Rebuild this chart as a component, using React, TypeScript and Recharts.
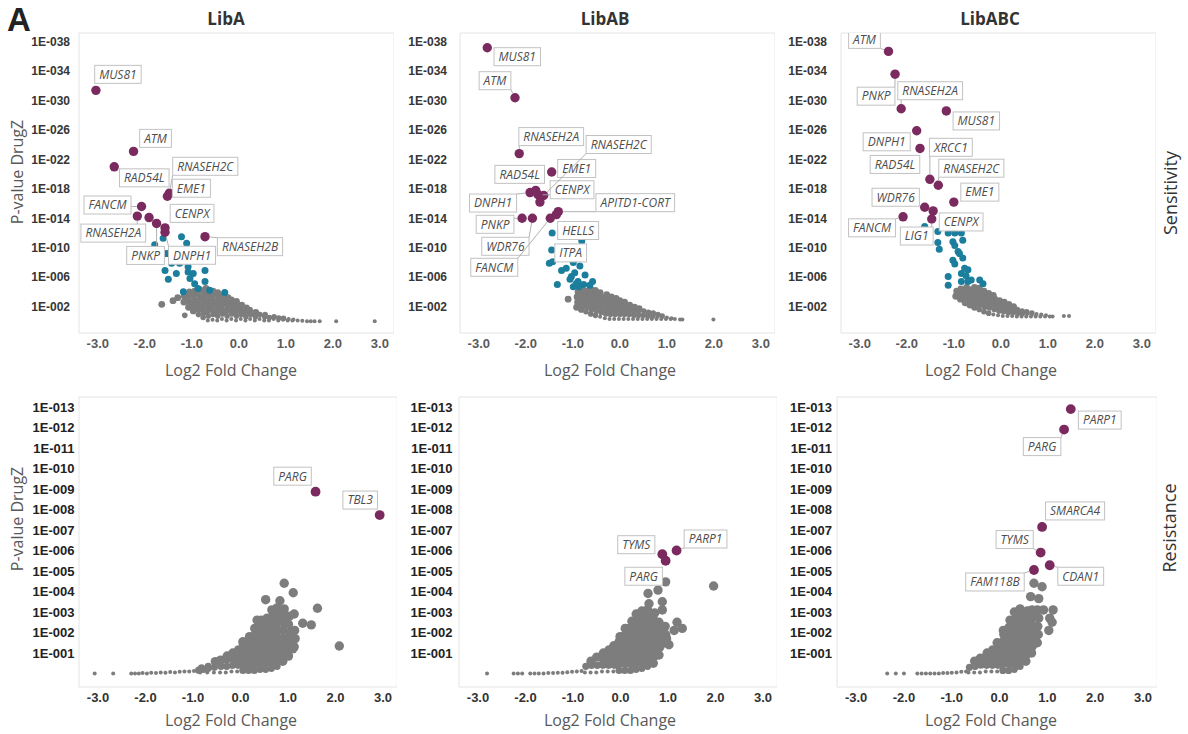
import React from 'react';
import { ScatterChart, Scatter, XAxis, YAxis, ReferenceArea } from 'recharts';

type Pt = [number, number];
type Named = [string, number, number];

// ---------- ticks & texts ----------
const xTicks = [-3, -2, -1, 0, 1, 2, 3];
const sensitivityTicks = [2, 6, 10, 14, 18, 22, 26, 30, 34, 38];
const resistanceTicks = [1, 2, 3, 4, 5, 6, 7, 8, 9, 10, 11, 12, 13];
const libraryTitles = ['LibA', 'LibAB', 'LibABC'];
const rowTitles = ['Sensitivity', 'Resistance'];
const xTitle = 'Log2 Fold Change';
const yTitle = 'P-value DrugZ';
const panelLetter = 'A';

// ---------- LibA sensitivity ----------
const libA_sens_hits: Named[] = [
  ['MUS81', -3.04, 31.4], ['ATM', -2.24, 23.1], ['RAD54L', -2.65, 21.0], ['RNASEH2C', -1.48, 17.4],
  ['EME1', -1.52, 17.0], ['FANCM', -2.07, 15.6], ['RNASEH2A', -2.16, 14.3], ['', -1.91, 14.1],
  ['PNKP', -1.75, 13.3], ['CENPX', -1.57, 12.7], ['DNPH1', -1.57, 12.1], ['RNASEH2B', -0.72, 11.5],
];
const libA_sens_sig: Pt[] = [
  [-1.61, 11.3], [-1.22, 11.5], [-1.79, 10.4], [-1.11, 10.6], [-1.54, 9.2], [-1.40, 8.3], [-1.43, 7.9],
  [-1.26, 7.9], [-1.08, 7.4], [-1.57, 6.9], [-1.33, 6.5], [-1.08, 6.7], [-0.97, 6.5], [-0.72, 6.9],
  [-1.04, 5.8], [-1.50, 5.7], [-0.94, 5.1], [-0.72, 5.4], [-0.87, 4.45], [-1.18, 4.0], [-0.62, 4.2], [-0.30, 3.9],
];
const libA_sens_sigNamed: Named[] = [];
const libA_sens_gray: Pt[] = [
  [-1.64, 2.3], [-1.40, 2.8], [-1.30, 3.2], [-1.15, 0.8], [-0.05, 2.7],
  [-1.17, 2.6], [-1.16, 3.4],
  [-1.07, 1.9], [-1.06, 2.6], [-1.08, 3.3], [-1.05, 4.0],
  [-0.97, 1.4], [-0.96, 2.1], [-0.95, 2.8], [-0.97, 3.5], [-0.94, 4.1],
  [-0.86, 0.9], [-0.85, 1.6], [-0.87, 2.3], [-0.84, 3.0], [-0.86, 3.7], [-0.83, 4.3],
  [-0.76, 0.5], [-0.75, 1.1], [-0.77, 1.8], [-0.74, 2.5], [-0.76, 3.2], [-0.73, 3.9], [-0.70, 4.45],
  [-0.66, 0.1], [-0.65, 0.7], [-0.67, 1.4], [-0.64, 2.1], [-0.66, 2.8], [-0.63, 3.5], [-0.65, 4.2],
  [-0.56, 0.2], [-0.55, 0.9], [-0.57, 1.6], [-0.54, 2.3], [-0.56, 3.0], [-0.53, 3.7], [-0.55, 4.1],
  [-0.46, 0.1], [-0.45, 0.7], [-0.47, 1.3], [-0.44, 2.0], [-0.46, 2.7], [-0.43, 3.4], [-0.45, 3.9],
  [-0.36, 0.3], [-0.35, 1.0], [-0.37, 1.7], [-0.34, 2.4], [-0.36, 3.0], [-0.33, 3.5],
  [-0.26, 0.1], [-0.25, 0.7], [-0.27, 1.4], [-0.24, 2.1], [-0.26, 2.7], [-0.23, 3.2],
  [-0.16, 0.3], [-0.15, 1.0], [-0.17, 1.6], [-0.14, 2.3], [-0.16, 2.9],
  [-0.06, 0.1], [-0.05, 0.7], [-0.07, 1.3], [-0.04, 1.9], [-0.06, 2.5],
  [0.04, 0.3], [0.05, 0.9], [0.03, 1.5], [0.06, 2.2],
  [0.14, 0.1], [0.15, 0.6], [0.13, 1.2], [0.16, 1.8],
  [0.24, 0.3], [0.25, 0.9], [0.23, 1.5],
  [0.34, 0.1], [0.35, 0.6], [0.36, 1.2],
  [0.44, 0.3], [0.45, 0.9], [0.54, 0.1], [0.55, 0.6], [0.56, 0.9],
  [0.64, 0.1], [0.65, 0.5], [0.74, 0.3], [0.75, 0.6], [0.84, 0.1], [0.85, 0.45],
  [0.94, 0.2], [0.95, 0.4], [1.04, 0.1], [1.06, 0.3], [1.14, 0.1], [1.16, 0.25],
  [1.25, 0.1], [1.35, 0.05], [1.45, 0], [1.53, 0], [1.61, 0], [1.72, 0], [2.07, 0], [2.89, 0],
];

// ---------- LibAB sensitivity ----------
const libAB_sens_hits: Named[] = [
  ['MUS81', -2.82, 37.2], ['ATM', -2.23, 30.4], ['RNASEH2A', -2.14, 22.8], ['EME1', -1.45, 20.3],
  ['DNPH1', -1.91, 17.5], ['RAD54L', -1.79, 17.8], ['CENPX', -1.74, 17.2], ['RNASEH2C', -1.62, 17.1],
  ['', -1.70, 16.2], ['PNKP', -2.08, 14.0], ['WDR76', -1.86, 14.0], ['FANCM', -1.48, 14.0],
  ['APITD1-CORT', -1.31, 14.9], ['', -1.35, 14.5],
];
const libAB_sens_sigNamed: Named[] = [['HELLS', -1.44, 12.0], ['ITPA', -1.45, 9.7]];
const libAB_sens_sig: Pt[] = [
  [-0.81, 10.9], [-1.50, 7.9], [-1.43, 8.1], [-0.99, 8.0], [-0.85, 7.5], [-1.24, 6.9], [-1.14, 7.2],
  [-0.96, 6.6], [-0.74, 6.3], [-1.06, 5.7], [-0.89, 5.4], [-0.58, 5.4], [-1.33, 5.0], [-0.99, 4.7],
  [-0.87, 4.7], [-0.77, 5.0], [-1.03, 6.1], [-0.93, 5.1], [-0.64, 4.9],
];
const libAB_sens_gray: Pt[] = [
  [-1.10, 3.0],
  [-0.92, 1.9], [-0.90, 2.6], [-0.91, 3.3], [-0.89, 4.0],
  [-0.82, 1.6], [-0.80, 2.3], [-0.81, 3.0], [-0.79, 3.7], [-0.80, 4.3],
  [-0.72, 1.3], [-0.70, 2.0], [-0.71, 2.7], [-0.69, 3.4], [-0.70, 4.1],
  [-0.62, 1.0], [-0.60, 1.7], [-0.61, 2.4], [-0.59, 3.1], [-0.60, 3.8], [-0.62, 4.4],
  [-0.52, 0.8], [-0.50, 1.4], [-0.51, 2.1], [-0.49, 2.8], [-0.50, 3.5], [-0.52, 4.2],
  [-0.42, 0.6], [-0.40, 1.2], [-0.41, 1.9], [-0.39, 2.6], [-0.40, 3.3], [-0.42, 3.9],
  [-0.32, 0.4], [-0.30, 1.0], [-0.31, 1.7], [-0.29, 2.4], [-0.30, 3.0], [-0.28, 3.6],
  [-0.22, 0.3], [-0.20, 0.9], [-0.21, 1.5], [-0.19, 2.1], [-0.20, 2.8], [-0.18, 3.3],
  [-0.12, 0.3], [-0.10, 0.9], [-0.11, 1.5], [-0.09, 2.1], [-0.10, 2.7], [-0.08, 3.1],
  [-0.02, 0.3], [0.00, 0.9], [-0.01, 1.5], [0.01, 2.1], [0.00, 2.8],
  [0.08, 0.3], [0.10, 0.9], [0.09, 1.5], [0.11, 2.1], [0.10, 2.6],
  [0.18, 0.3], [0.20, 0.9], [0.19, 1.5], [0.21, 2.2],
  [0.28, 0.3], [0.30, 0.8], [0.29, 1.4], [0.31, 1.9],
  [0.38, 0.3], [0.40, 0.8], [0.39, 1.3], [0.41, 1.7],
  [0.48, 0.3], [0.50, 0.8], [0.51, 1.4], [0.58, 0.3], [0.60, 0.7], [0.61, 1.2],
  [0.68, 0.3], [0.70, 0.7], [0.71, 1.1], [0.78, 0.3], [0.80, 0.6], [0.81, 0.9],
  [0.88, 0.3], [0.90, 0.7], [0.98, 0.3], [1.00, 0.5], [1.08, 0.3], [1.10, 0.4],
  [1.17, 0.3], [1.28, 0.25], [1.33, 0.25], [1.99, 0.25],
];

// ---------- LibABC sensitivity ----------
const libABC_sens_hits: Named[] = [
  ['ATM', -2.39, 36.7], ['PNKP', -2.25, 33.6], ['RNASEH2A', -2.12, 28.9], ['MUS81', -1.16, 28.6],
  ['DNPH1', -1.79, 25.9], ['RAD54L', -1.72, 23.5], ['XRCC1', -1.51, 19.3], ['RNASEH2C', -1.33, 18.5],
  ['EME1', -1.00, 16.2], ['WDR76', -1.62, 15.5], ['CENPX', -1.44, 15.0], ['FANCM', -2.08, 14.2],
  ['LIG1', -1.47, 13.9],
];
const libABC_sens_sigNamed: Named[] = [];
const libABC_sens_sig: Pt[] = [
  [-1.34, 12.2], [-1.62, 12.9], [-1.12, 12.0], [-0.98, 12.0], [-0.84, 12.0], [-1.02, 12.6],
  [-1.34, 10.7], [-1.31, 9.8], [-1.02, 10.8], [-0.81, 11.0], [-0.98, 10.3], [-0.91, 9.5],
  [-0.88, 9.2], [-0.81, 8.6], [-1.02, 8.3], [-0.98, 7.8], [-0.77, 7.2], [-0.70, 7.0],
  [-0.84, 6.5], [-1.12, 6.1], [-1.12, 4.9], [-0.74, 6.2], [-0.63, 5.6], [-0.45, 5.6],
  [-0.38, 5.1], [-0.70, 5.4], [-0.84, 5.4],
];
const libABC_sens_gray: Pt[] = [
  [-0.96, 3.4], [-0.94, 4.1],
  [-0.86, 3.0], [-0.84, 3.7], [-0.85, 4.4],
  [-0.76, 2.5], [-0.74, 3.2], [-0.75, 3.9], [-0.73, 4.6],
  [-0.66, 2.2], [-0.64, 2.9], [-0.65, 3.6], [-0.63, 4.3],
  [-0.56, 1.9], [-0.54, 2.6], [-0.55, 3.3], [-0.53, 4.0], [-0.56, 4.6],
  [-0.46, 1.6], [-0.44, 2.3], [-0.45, 3.0], [-0.43, 3.7], [-0.46, 4.5],
  [-0.36, 1.3], [-0.34, 2.0], [-0.35, 2.7], [-0.33, 3.4], [-0.36, 4.1],
  [-0.26, 1.1], [-0.24, 1.8], [-0.25, 2.5], [-0.23, 3.2], [-0.26, 3.8],
  [-0.16, 0.9], [-0.14, 1.6], [-0.15, 2.3], [-0.13, 3.0], [-0.16, 3.5],
  [-0.06, 0.8], [-0.04, 1.4], [-0.05, 2.1], [-0.03, 2.8],
  [0.04, 0.7], [0.06, 1.3], [0.05, 1.9], [0.07, 2.6],
  [0.14, 0.7], [0.16, 1.2], [0.15, 1.8], [0.17, 2.3],
  [0.24, 0.7], [0.26, 1.2], [0.25, 1.7], [0.27, 2.0],
  [0.34, 0.65], [0.36, 1.1], [0.35, 1.6], [0.44, 0.65], [0.46, 1.1], [0.45, 1.4],
  [0.54, 0.65], [0.56, 1.0], [0.55, 1.3], [0.64, 0.65], [0.66, 1.1], [0.74, 0.65], [0.76, 1.0],
  [0.84, 0.65], [0.86, 0.9], [0.94, 0.65], [0.96, 0.8], [1.04, 0.65], [1.10, 0.65],
  [1.34, 0.7], [1.45, 0.7],
];

// ---------- LibA resistance ----------
const libA_res_hits: Named[] = [['PARG', 1.58, 8.87], ['TBL3', 2.93, 7.73]];
const libA_res_gray: Pt[] = [
  [-3.07, 0], [-2.68, 0], [-2.3, 0], [-2.22, 0], [-2.14, 0], [-2.06, 0.02], [-1.97, 0], [-1.88, 0.04],
  [-1.78, 0.02], [-1.68, 0.05], [-1.58, 0.04], [-1.48, 0.07], [-1.38, 0.05], [-1.28, 0.08], [-1.18, 0.1],
  [-1.08, 0.1], [-0.98, 0.12], [-0.88, 0.16], [-0.78, 0.2], [-0.68, 0.25],
  [-0.85, 0.05], [-0.82, 0.28], [-0.70, 0.05], [-0.68, 0.35],
  [-0.56, 0.05], [-0.55, 0.3], [-0.53, 0.58],
  [-0.43, 0.05], [-0.41, 0.35], [-0.42, 0.65],
  [-0.31, 0.05], [-0.29, 0.35], [-0.30, 0.7], [-0.28, 0.85],
  [-0.19, 0.1], [-0.17, 0.4], [-0.18, 0.75], [-0.16, 1.0],
  [-0.07, 0.1], [-0.05, 0.45], [-0.06, 0.8], [-0.04, 1.15],
  [0.05, 0.15], [0.07, 0.45], [0.06, 0.8], [0.08, 1.1], [0.06, 1.45],
  [0.17, 0.15], [0.19, 0.45], [0.18, 0.8], [0.2, 1.15], [0.17, 1.5], [0.19, 1.8],
  [0.29, 0.15], [0.31, 0.5], [0.3, 0.85], [0.32, 1.2], [0.29, 1.55], [0.31, 1.9], [0.3, 2.2],
  [0.41, 0.2], [0.43, 0.5], [0.42, 0.85], [0.44, 1.2], [0.41, 1.55], [0.43, 1.9], [0.42, 2.25], [0.44, 2.6],
  [0.53, 0.2], [0.55, 0.55], [0.54, 0.9], [0.56, 1.25], [0.53, 1.6], [0.55, 1.95], [0.54, 2.3], [0.56, 2.7],
  [0.65, 0.25], [0.67, 0.6], [0.66, 0.95], [0.68, 1.3], [0.65, 1.65], [0.67, 2.0], [0.66, 2.4], [0.68, 2.8], [0.66, 3.1],
  [0.77, 0.35], [0.79, 0.7], [0.78, 1.05], [0.8, 1.4], [0.77, 1.75], [0.79, 2.1], [0.78, 2.5], [0.8, 2.85], [0.77, 3.2],
  [0.89, 0.6], [0.91, 0.95], [0.9, 1.3], [0.92, 1.7], [0.89, 2.1], [0.91, 2.5], [0.9, 2.85], [0.92, 3.15],
  [1.01, 0.85], [1.03, 1.2], [1.02, 1.6], [1.04, 2.0], [1.01, 2.4], [1.03, 2.8],
  [1.13, 1.3], [1.15, 1.7], [1.14, 2.1],
  [0.92, 4.4], [1.11, 3.94], [0.53, 3.6], [0.83, 3.55], [1.62, 3.18], [2.08, 1.34], [0.35, 2.6],
  [1.13, 2.9], [1.31, 2.45], [1.49, 2.37], [0.05, 1.55], [1.1, 1.2],
];

// ---------- LibAB resistance ----------
const libAB_res_hits: Named[] = [['TYMS', 0.88, 5.82], ['PARG', 0.95, 5.5], ['PARP1', 1.18, 6.0]];
const libAB_res_gray: Pt[] = [
  [-2.81, 0], [-2.25, 0], [-2.16, 0], [-2.07, 0], [-1.9, 0], [-1.81, 0], [-1.72, 0], [-1.62, 0],
  [-1.52, 0.02], [-1.42, 0.02], [-1.32, 0.04], [-1.22, 0.04], [-1.12, 0.06], [-1.02, 0.08], [-0.92, 0.1], [-0.82, 0.12],
  [-0.75, 0.05], [-0.73, 0.35], [-0.63, 0.05], [-0.61, 0.4], [-0.62, 0.6],
  [-0.51, 0.05], [-0.49, 0.4], [-0.5, 0.8],
  [-0.39, 0.1], [-0.37, 0.45], [-0.38, 0.8], [-0.36, 1.0],
  [-0.27, 0.1], [-0.25, 0.45], [-0.26, 0.8], [-0.24, 1.15],
  [-0.15, 0.1], [-0.13, 0.45], [-0.14, 0.8], [-0.12, 1.15], [-0.14, 1.35],
  [-0.03, 0.15], [-0.01, 0.5], [-0.02, 0.85], [0.0, 1.2], [-0.03, 1.55], [-0.01, 1.8],
  [0.09, 0.15], [0.11, 0.5], [0.1, 0.85], [0.12, 1.2], [0.09, 1.55], [0.11, 1.9], [0.1, 2.2],
  [0.21, 0.15], [0.23, 0.5], [0.22, 0.85], [0.24, 1.2], [0.21, 1.55], [0.23, 1.9], [0.22, 2.25], [0.24, 2.55],
  [0.33, 0.2], [0.35, 0.55], [0.34, 0.9], [0.36, 1.25], [0.33, 1.6], [0.35, 1.95], [0.34, 2.3], [0.36, 2.65], [0.33, 2.9],
  [0.45, 0.25], [0.47, 0.6], [0.46, 0.95], [0.48, 1.3], [0.45, 1.65], [0.47, 2.0], [0.46, 2.35], [0.48, 2.7], [0.45, 3.05],
  [0.57, 0.35], [0.59, 0.7], [0.58, 1.05], [0.6, 1.4], [0.57, 1.75], [0.59, 2.1], [0.58, 2.45], [0.6, 2.8], [0.57, 3.1],
  [0.69, 0.5], [0.71, 0.85], [0.7, 1.2], [0.72, 1.55], [0.69, 1.9], [0.71, 2.25], [0.7, 2.6], [0.72, 2.95],
  [0.81, 0.9], [0.83, 1.3], [0.82, 1.7], [0.84, 2.1], [0.81, 2.5],
  [0.93, 1.5], [0.95, 1.9], [0.94, 2.3],
  [0.95, 4.47], [1.96, 4.27], [0.58, 3.9], [0.79, 4.07], [0.60, 3.4], [0.88, 3.5], [0.88, 3.1],
  [1.19, 2.5], [1.30, 2.2], [1.13, 2.1], [0.97, 1.7], [1.02, 1.4],
];

// ---------- LibABC resistance ----------
const libABC_res_hits: Named[] = [
  ['PARP1', 1.49, 12.9], ['PARG', 1.35, 11.9], ['SMARCA4', 0.89, 7.15],
  ['TYMS', 0.86, 5.9], ['CDAN1', 1.05, 5.28], ['FAM118B', 0.72, 5.05],
];
const libABC_res_gray: Pt[] = [
  [-2.35, 0], [-2.17, 0], [-2.0, 0], [-1.72, 0], [-1.63, 0], [-1.54, 0], [-1.45, 0], [-1.36, 0],
  [-1.27, 0], [-1.18, 0.02], [-1.09, 0.02], [-1.0, 0.03], [-0.9, 0.05], [-0.8, 0.08], [-0.7, 0.1],
  [-0.65, 0.05], [-0.63, 0.3], [-0.53, 0.05], [-0.51, 0.35], [-0.52, 0.6],
  [-0.41, 0.05], [-0.39, 0.4], [-0.4, 0.75],
  [-0.29, 0.1], [-0.27, 0.45], [-0.28, 0.8], [-0.26, 1.0],
  [-0.17, 0.1], [-0.15, 0.45], [-0.16, 0.8], [-0.14, 1.15],
  [-0.05, 0.1], [-0.03, 0.45], [-0.04, 0.8], [-0.02, 1.15], [-0.05, 1.5],
  [0.07, 0.15], [0.09, 0.5], [0.08, 0.85], [0.1, 1.2], [0.07, 1.55], [0.09, 1.9], [0.08, 2.1],
  [0.19, 0.15], [0.21, 0.5], [0.2, 0.85], [0.22, 1.2], [0.19, 1.55], [0.21, 1.9], [0.2, 2.25], [0.22, 2.6],
  [0.31, 0.2], [0.33, 0.55], [0.32, 0.9], [0.34, 1.25], [0.31, 1.6], [0.33, 1.95], [0.32, 2.3], [0.34, 2.65], [0.31, 3.0],
  [0.43, 0.35], [0.45, 0.7], [0.44, 1.05], [0.46, 1.4], [0.43, 1.75], [0.45, 2.1], [0.44, 2.45], [0.46, 2.8], [0.43, 3.15],
  [0.55, 0.6], [0.57, 0.95], [0.56, 1.3], [0.58, 1.65], [0.55, 2.0], [0.57, 2.35], [0.56, 2.7], [0.58, 3.05],
  [0.67, 1.0], [0.69, 1.35], [0.68, 1.7], [0.7, 2.05], [0.67, 2.4], [0.69, 2.75], [0.68, 3.1],
  [0.79, 1.5], [0.81, 1.9], [0.8, 2.3], [0.82, 2.7], [0.79, 3.1],
  [0.72, 4.4], [0.89, 4.23], [0.65, 3.75], [0.82, 3.65], [1.12, 3.1], [0.92, 3.1], [1.05, 2.7], [1.03, 2.1], [1.1, 2.5],
];

// ---------- layout (positions / styles) ----------
const LABEL_LAYOUT: Record<string, Record<string, [number, number]>> = {
  'A-sens': { MUS81: [22, -16], ATM: [22, -13], RAD54L: [30, 11], RNASEH2C: [36, -27], EME1: [24, -8], FANCM: [-34, -1.5], RNASEH2A: [-24, 17], PNKP: [-11, 32], CENPX: [27, -14.5], DNPH1: [27, 23], RNASEH2B: [45, 10] },
  'AB-sens': { MUS81: [30, 9], ATM: [-20, -17], RNASEH2A: [32, -17], EME1: [25, -3.5], DNPH1: [-37, 10.5], RAD54L: [-16, -16], CENPX: [34, -5], RNASEH2C: [75, -51], PNKP: [-27, 6], WDR76: [-27, 28], FANCM: [-56, 49], 'APITD1-CORT': [77, -9], HELLS: [26, -2.5], ITPA: [19, 3] },
  'ABC-sens': { ATM: [-24, -12], PNKP: [-19, 22], RNASEH2A: [29, -18], MUS81: [30, 10], DNPH1: [-30, 11], RAD54L: [-25, 16], XRCC1: [21, -32], RNASEH2C: [33, -17], EME1: [26, -10], WDR76: [-29, -10], CENPX: [28, 11], FANCM: [-31, 11], LIG1: [-15, 17] },
  'A-res': { PARG: [-23, -15.5], TBL3: [-19.5, -15] },
  'AB-res': { TYMS: [-26, -9.5], PARG: [-22, 15.5], PARP1: [29, -11.5] },
  'ABC-res': { PARP1: [29, 11], PARG: [-22, 17], SMARCA4: [33, -16], TYMS: [-26, -13], CDAN1: [31, 11], FAM118B: [-39, 12] },
};

const PURPLE = '#7a2a5e';
const TEAL = '#1b7e9c';
const GRAY = '#7d7d7d';
const Y_W = 62;
const X_H = 50;
const TOP_PAD = 14;
const X_DOMAIN: [number, number] = [-3.4, 3.3];
const TOP_DOMAIN: [number, number] = [-1.6, 39.2];
const BOT_DOMAIN: [number, number] = [-0.66, 13.49];
const LABEL_FONT_SIZE = 12;

type PanelDef = {
  key: string; row: 'sens' | 'res'; plotLeft: number; top: number; plotW: number; plotH: number; yGap: number;
  base: number; gray: Pt[]; sig: Pt[]; sigNamed: Named[]; hits: Named[];
};

const PANELS: PanelDef[] = [
  { key: 'A-sens', row: 'sens', plotLeft: 79.2, top: 33, plotW: 315, plotH: 300, yGap: 9, base: 0, gray: libA_sens_gray, sig: libA_sens_sig, sigNamed: libA_sens_sigNamed, hits: libA_sens_hits },
  { key: 'AB-sens', row: 'sens', plotLeft: 460.2, top: 33, plotW: 315, plotH: 300, yGap: 13, base: 0.25, gray: libAB_sens_gray, sig: libAB_sens_sig, sigNamed: libAB_sens_sigNamed, hits: libAB_sens_hits },
  { key: 'ABC-sens', row: 'sens', plotLeft: 841.2, top: 33, plotW: 315, plotH: 300, yGap: 14, base: 0.65, gray: libABC_sens_gray, sig: libABC_sens_sig, sigNamed: libABC_sens_sigNamed, hits: libABC_sens_hits },
  { key: 'A-res', row: 'res', plotLeft: 78.5, top: 397, plotW: 318.25, plotH: 290, yGap: 4.5, base: 0, gray: libA_res_gray, sig: [], sigNamed: [], hits: libA_res_hits },
  { key: 'AB-res', row: 'res', plotLeft: 458.5, top: 397, plotW: 318.25, plotH: 290, yGap: 6.5, base: 0, gray: libAB_res_gray, sig: [], sigNamed: [], hits: libAB_res_hits },
  { key: 'ABC-res', row: 'res', plotLeft: 836.5, top: 397, plotW: 320.3, plotH: 290, yGap: 5, base: 0, gray: libABC_res_gray, sig: [], sigNamed: [], hits: libABC_res_hits },
];

let measureCtx: CanvasRenderingContext2D | null = null;
function textWidth(t: string): number {
  try {
    if (!measureCtx) measureCtx = document.createElement('canvas').getContext('2d');
    if (measureCtx) {
      measureCtx.font = `italic ${LABEL_FONT_SIZE}px "Open Sans"`;
      return measureCtx.measureText(t).width;
    }
  } catch (e) { /* ignore */ }
  return t.length * 7;
}

const grayRadius = (row: string, dy: number) =>
  row === 'sens' ? (dy < 0.4 ? 2.0 : dy < 1.2 ? 2.8 : 3.4) : (dy < 0.14 ? 2.0 : dy < 0.45 ? 3.6 : 4.7);

function makeDot(color: string, rFn: (y: number) => number) {
  return (props: any) => {
    const { cx, cy, payload } = props;
    if (cx == null || cy == null) return <g />;
    return <circle cx={cx} cy={cy} r={rFn(payload.y)} fill={color} />;
  };
}

function makeLabel(panelKey: string, dotR: number) {
  return (props: any) => {
    const { cx, cy, payload } = props;
    const off = LABEL_LAYOUT[panelKey] && LABEL_LAYOUT[panelKey][payload.gene];
    if (!off || cx == null || cy == null) return <g />;
    const w = textWidth(payload.gene) + 9;
    const h = 18;
    const bx = cx + off[0];
    const by = cy + off[1];
    const left = bx - w / 2;
    const top = by - h / 2;
    const nx = Math.max(left, Math.min(cx, left + w));
    const ny = Math.max(top, Math.min(cy, top + h));
    const d = Math.hypot(nx - cx, ny - cy);
    const sx = d > 0 ? cx + ((nx - cx) / d) * dotR : cx;
    const sy = d > 0 ? cy + ((ny - cy) / d) * dotR : cy;
    return (
      <g>
        {d > dotR + 3 && <line x1={sx} y1={sy} x2={nx} y2={ny} stroke="#a9a9a9" strokeWidth={0.9} />}
        <rect x={left} y={top} width={w} height={h} fill="#ffffff" stroke="#c2c2c2" strokeWidth={1} />
        <text x={bx} y={by} dy="0.36em" textAnchor="middle" fontStyle="italic" fontSize={LABEL_FONT_SIZE}
          fontFamily='"Open Sans", sans-serif' fill="#4d4d4d">{payload.gene}</text>
      </g>
    );
  };
}

const yTickFmt = (v: number) => `1E-${String(v).padStart(3, '0')}`;

function Panel({ p }: { p: PanelDef }) {
  const sens = p.row === 'sens';
  const domain = sens ? TOP_DOMAIN : BOT_DOMAIN;
  const hitR = sens ? 4.7 : 4.9;
  const sigR = 3.5;
  const grayData = p.gray.map(([x, y]) => ({ x, y }));
  const sigData = [...p.sig.map(([x, y]) => ({ x, y })), ...p.sigNamed.map(([, x, y]) => ({ x, y }))];
  const hitData = p.hits.map(([gene, x, y]) => ({ x, y, gene }));
  const labelHits = p.hits.filter((h) => h[0] !== '').map(([gene, x, y]) => ({ x, y, gene }));
  const labelSig = p.sigNamed.map(([gene, x, y]) => ({ x, y, gene }));
  return (
    <div style={{ position: 'absolute', left: p.plotLeft - Y_W, top: p.top - TOP_PAD }}>
      <ScatterChart width={Y_W + p.plotW} height={p.plotH + X_H + TOP_PAD} margin={{ top: TOP_PAD, right: 0, bottom: 0, left: 0 }}>
        <XAxis type="number" dataKey="x" domain={X_DOMAIN} ticks={xTicks} interval={0} allowDataOverflow
          tickFormatter={(v: number) => v.toFixed(1)} axisLine={false} tickLine={false} tickSize={3} tickMargin={2.5}
          height={X_H}
          tick={{ fontSize: 13, fontWeight: 700, fill: sens ? '#5a5a5a' : '#333333', fontFamily: '"Liberation Sans", Arial, sans-serif' }} />
        <YAxis type="number" dataKey="y" domain={domain} ticks={sens ? sensitivityTicks : resistanceTicks} interval={0}
          allowDataOverflow tickFormatter={yTickFmt} axisLine={false} tickLine={false} tickSize={2} tickMargin={p.yGap - 2}
          width={Y_W}
          tick={{ fontSize: sens ? 12 : 13, fontWeight: 700, fill: sens ? '#363636' : '#222222', fontFamily: '"Liberation Sans", Arial, sans-serif' }} />
        <ReferenceArea x1={X_DOMAIN[0]} x2={X_DOMAIN[1]} y1={domain[0]} y2={domain[1]} fill="none" fillOpacity={0}
          stroke="#e4e4e4" strokeWidth={1} />
        <Scatter data={grayData} isAnimationActive={false} shape={makeDot(GRAY, (y) => grayRadius(p.row, y - p.base))} />
        {sigData.length > 0 && <Scatter data={sigData} isAnimationActive={false} shape={makeDot(TEAL, () => sigR)} />}
        <Scatter data={hitData} isAnimationActive={false} shape={makeDot(PURPLE, () => hitR)} />
        <Scatter data={labelSig} isAnimationActive={false} shape={makeLabel(p.key, sigR)} />
        <Scatter data={labelHits} isAnimationActive={false} shape={makeLabel(p.key, hitR)} />
      </ScatterChart>
    </div>
  );
}

function Txt({ x, y, rot, style, children }: { x: number; y: number; rot?: number; style?: React.CSSProperties; children: React.ReactNode }) {
  return (
    <div style={{
      position: 'absolute', left: x, top: y, whiteSpace: 'nowrap', lineHeight: 1,
      transform: `translate(-50%, -50%)${rot ? ` rotate(${rot}deg)` : ''}`, ...style,
    }}>{children}</div>
  );
}

const titleStyle: React.CSSProperties = { fontSize: 17, fontWeight: 700, color: '#333', fontFamily: '"Open Sans", sans-serif' };
const axisTitleStyle: React.CSSProperties = { fontSize: 16, color: '#595959', fontFamily: '"Open Sans", sans-serif' };
const rowTitleStyle: React.CSSProperties = { fontSize: 18, color: '#333', fontFamily: '"Open Sans", sans-serif' };

export default function App() {
  return (
    <div style={{ position: 'absolute', left: 0, top: 0, width: 1188, height: 734, background: '#fff', overflow: 'hidden', fontFamily: '"Open Sans", sans-serif' }}>
      {PANELS.map((p) => <Panel key={p.key} p={p} />)}
      <Txt x={19} y={19} style={{ fontSize: 33, fontWeight: 700, color: '#222', fontFamily: '"Liberation Sans", Arial, sans-serif' }}>{panelLetter}</Txt>
      <Txt x={226} y={18} style={titleStyle}>{libraryTitles[0]}</Txt>
      <Txt x={605} y={18} style={titleStyle}>{libraryTitles[1]}</Txt>
      <Txt x={990} y={18} style={titleStyle}>{libraryTitles[2]}</Txt>
      <Txt x={1170} y={193} rot={-90} style={rowTitleStyle}>{rowTitles[0]}</Txt>
      <Txt x={1169} y={528} rot={-90} style={rowTitleStyle}>{rowTitles[1]}</Txt>
      <Txt x={17} y={172} rot={-90} style={axisTitleStyle}>{yTitle}</Txt>
      <Txt x={17} y={519} rot={-90} style={axisTitleStyle}>{yTitle}</Txt>
      <Txt x={231} y={370} style={axisTitleStyle}>{xTitle}</Txt>
      <Txt x={610} y={370} style={axisTitleStyle}>{xTitle}</Txt>
      <Txt x={991} y={370} style={axisTitleStyle}>{xTitle}</Txt>
      <Txt x={231} y={720} style={axisTitleStyle}>{xTitle}</Txt>
      <Txt x={610} y={720} style={axisTitleStyle}>{xTitle}</Txt>
      <Txt x={991} y={720} style={axisTitleStyle}>{xTitle}</Txt>
    </div>
  );
}
